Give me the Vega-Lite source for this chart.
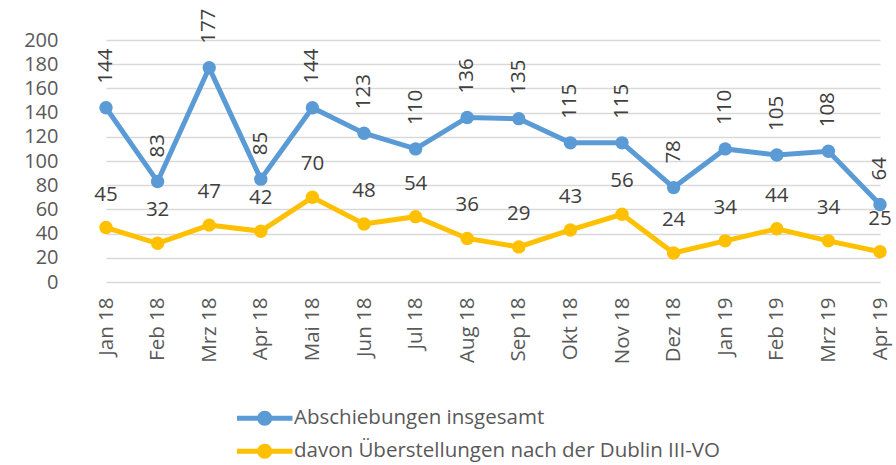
{
  "$schema": "https://vega.github.io/schema/vega-lite/v6.json",
  "width": 816,
  "height": 242,
  "autosize": {"type": "none"},
  "padding": {"left": 80, "top": 40, "right": 0, "bottom": 183},
  "background": "white",
  "config": {"font": "Open Sans", "view": {"stroke": null}},
  "data": {
    "values": [
      {"month": "Jan 18", "series": "Abschiebungen insgesamt", "value": 144},
      {"month": "Feb 18", "series": "Abschiebungen insgesamt", "value": 83},
      {"month": "Mrz 18", "series": "Abschiebungen insgesamt", "value": 177},
      {"month": "Apr 18", "series": "Abschiebungen insgesamt", "value": 85},
      {"month": "Mai 18", "series": "Abschiebungen insgesamt", "value": 144},
      {"month": "Jun 18", "series": "Abschiebungen insgesamt", "value": 123},
      {"month": "Jul 18", "series": "Abschiebungen insgesamt", "value": 110},
      {"month": "Aug 18", "series": "Abschiebungen insgesamt", "value": 136},
      {"month": "Sep 18", "series": "Abschiebungen insgesamt", "value": 135},
      {"month": "Okt 18", "series": "Abschiebungen insgesamt", "value": 115},
      {"month": "Nov 18", "series": "Abschiebungen insgesamt", "value": 115},
      {"month": "Dez 18", "series": "Abschiebungen insgesamt", "value": 78},
      {"month": "Jan 19", "series": "Abschiebungen insgesamt", "value": 110},
      {"month": "Feb 19", "series": "Abschiebungen insgesamt", "value": 105},
      {"month": "Mrz 19", "series": "Abschiebungen insgesamt", "value": 108},
      {"month": "Apr 19", "series": "Abschiebungen insgesamt", "value": 64},
      {"month": "Jan 18", "series": "davon Überstellungen nach der Dublin III-VO", "value": 45},
      {"month": "Feb 18", "series": "davon Überstellungen nach der Dublin III-VO", "value": 32},
      {"month": "Mrz 18", "series": "davon Überstellungen nach der Dublin III-VO", "value": 47},
      {"month": "Apr 18", "series": "davon Überstellungen nach der Dublin III-VO", "value": 42},
      {"month": "Mai 18", "series": "davon Überstellungen nach der Dublin III-VO", "value": 70},
      {"month": "Jun 18", "series": "davon Überstellungen nach der Dublin III-VO", "value": 48},
      {"month": "Jul 18", "series": "davon Überstellungen nach der Dublin III-VO", "value": 54},
      {"month": "Aug 18", "series": "davon Überstellungen nach der Dublin III-VO", "value": 36},
      {"month": "Sep 18", "series": "davon Überstellungen nach der Dublin III-VO", "value": 29},
      {"month": "Okt 18", "series": "davon Überstellungen nach der Dublin III-VO", "value": 43},
      {"month": "Nov 18", "series": "davon Überstellungen nach der Dublin III-VO", "value": 56},
      {"month": "Dez 18", "series": "davon Überstellungen nach der Dublin III-VO", "value": 24},
      {"month": "Jan 19", "series": "davon Überstellungen nach der Dublin III-VO", "value": 34},
      {"month": "Feb 19", "series": "davon Überstellungen nach der Dublin III-VO", "value": 44},
      {"month": "Mrz 19", "series": "davon Überstellungen nach der Dublin III-VO", "value": 34},
      {"month": "Apr 19", "series": "davon Überstellungen nach der Dublin III-VO", "value": 25}
    ]
  },
  "encoding": {
    "x": {
      "field": "month", "type": "ordinal", "sort": null,
      "scale": {"type": "point", "range": [26, 800], "padding": 0},
      "axis": {"title": null, "labelAngle": -90, "labelFontSize": 20.5, "labelColor": "#595959", "labelPadding": 15, "ticks": false, "domain": false, "grid": false}
    },
    "y": {
      "field": "value", "type": "quantitative",
      "scale": {"domain": [0, 200], "nice": false},
      "axis": {"title": null, "values": [0, 20, 40, 60, 80, 100, 120, 140, 160, 180, 200], "labelFontSize": 20, "labelColor": "#595959", "labelPadding": 22, "ticks": false, "domain": false, "gridColor": "#D9D9D9", "gridWidth": 1.5}
    },
    "color": {
      "field": "series", "type": "nominal",
      "scale": {"domain": ["Abschiebungen insgesamt", "davon Überstellungen nach der Dublin III-VO"], "range": ["#5B9BD5", "#FFC000"]},
      "legend": {
        "orient": "none", "legendX": 174.5, "legendY": 368, "title": null, "direction": "vertical",
        "symbolType": "M-3.7,-0.33H3.7V0.33H-3.7Z M1,0 A1,1 0 1,1 -1,0 A1,1 0 1,1 1,0 Z",
        "symbolSize": 225, "symbolStrokeWidth": 0,
        "labelFontSize": 20.5, "labelColor": "#595959", "labelOffset": 19, "rowPadding": 12, "labelLimit": 700,
        "encode": {"symbols": {"update": {"fill": {"scale": "color", "field": "value"}, "stroke": {"value": "transparent"}, "opacity": {"value": 1}}}}
      }
    }
  },
  "layer": [
    {"mark": {"type": "line", "strokeWidth": 5}},
    {"mark": {"type": "point", "filled": true, "size": 180, "opacity": 1}},
    {
      "transform": [{"filter": "datum.series == 'Abschiebungen insgesamt'"}],
      "mark": {"type": "text", "angle": 270, "align": "left", "baseline": "middle", "dx": 24, "fontSize": 20.5},
      "encoding": {"text": {"field": "value", "type": "quantitative"}, "color": {"value": "#404040"}}
    },
    {
      "transform": [{"filter": "datum.series != 'Abschiebungen insgesamt'"}],
      "mark": {"type": "text", "align": "center", "baseline": "middle", "dy": -33, "fontSize": 20.5},
      "encoding": {"text": {"field": "value", "type": "quantitative"}, "color": {"value": "#404040"}}
    }
  ]
}
